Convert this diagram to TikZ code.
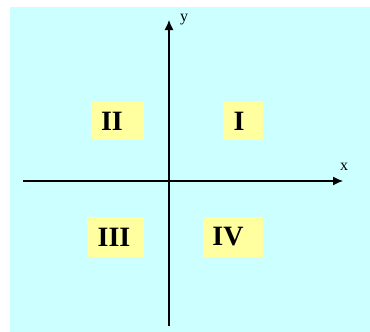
\documentclass[tikz,border=0pt]{standalone}
\usepackage{fontspec}
\setmainfont{Liberation Serif}
\usetikzlibrary{arrows.meta}
\definecolor{bgcyan}{RGB}{204,255,255}
\definecolor{boxyellow}{RGB}{255,255,160}
\begin{document}
\begin{tikzpicture}[x=1pt,y=-1pt,
  quadbox/.style={fill=boxyellow, draw=none, inner sep=0pt},
  quadtext/.style={font=\bfseries\fontsize{28}{28}\selectfont, inner sep=0pt, anchor=center},
  axis/.style={line width=1.2pt, -{Latex[length=10pt,width=9pt]}},
  axlabel/.style={font=\fontsize{16}{16}\selectfont, inner sep=0pt}]
\useasboundingbox (0,0) rectangle (370,332);
\fill[bgcyan] (10,7) rectangle (370,332);
% boxes
\node[quadbox, minimum width=53pt, minimum height=39pt] (b2) at (117.5,120.5) {};
\node[quadbox, minimum width=40pt, minimum height=39pt] (b1) at (243,120.5) {};
\node[quadbox, minimum width=57pt, minimum height=40pt] (b3) at (115.5,237) {};
\node[quadbox, minimum width=60pt, minimum height=40pt] (b4) at (233,237) {};
\node[quadtext] (t2) at (112,121) {II};
\node[quadtext] (t1) at (239,121) {I};
\node[quadtext] (t3) at (114,237) {III};
\node[quadtext] (t4) at (228,237) {IV};
% axes
\coordinate (xs) at (23,181);
\coordinate (xe) at (343,181);
\coordinate (ys) at (169,326);
\coordinate (ye) at (169,20);
\draw[axis] (xs) -- (xe);
\draw[axis] (ys) -- (ye);
\node[axlabel] (xl) at (344,167) {x};
\node[axlabel] (yl) at (184,20) {y};
\end{tikzpicture}
\end{document}
